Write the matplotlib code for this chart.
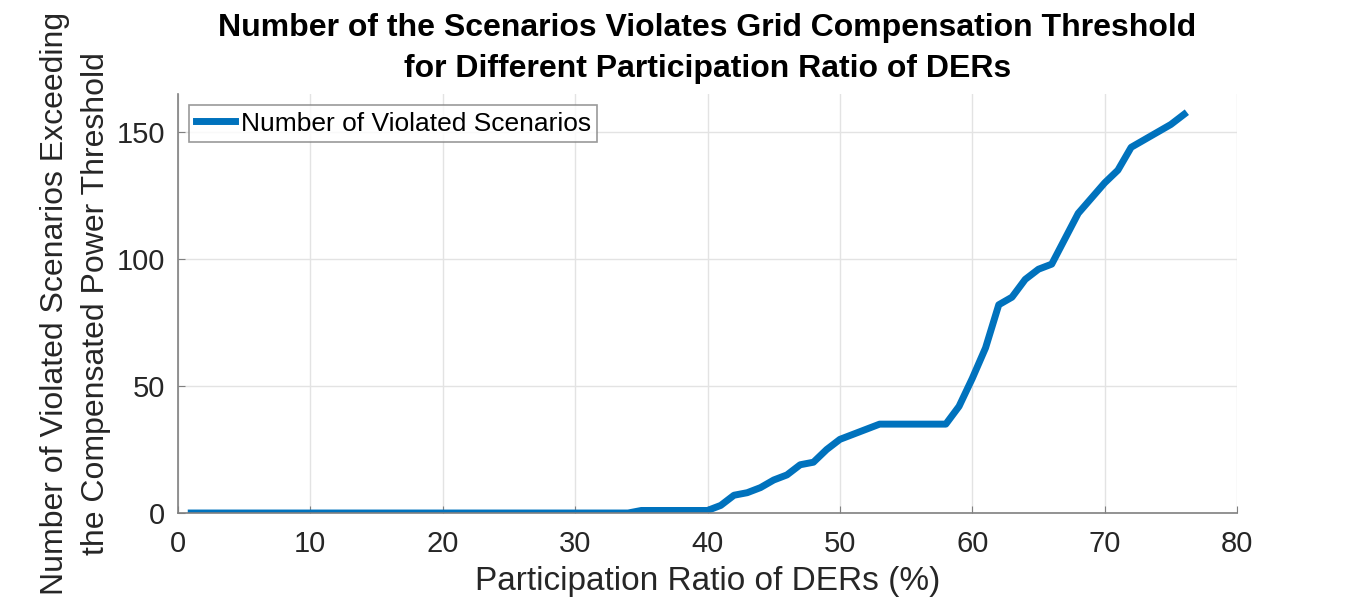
import numpy as np
import matplotlib.pyplot as plt

# participation ratio (%) and number of violated scenarios
ratio = np.arange(1, 77)
violated = [0] * 34 + [1, 1, 1, 1, 1, 1,
                       3, 7, 8, 10, 13, 15, 19, 20, 25, 29, 31, 33,
                       35, 35, 35, 35, 35, 35,
                       42, 53, 65, 82, 85, 92, 96, 98, 108, 118,
                       124, 130, 135, 144, 147, 150, 153, 157]

x_ticks = [0, 10, 20, 30, 40, 50, 60, 70, 80]
y_ticks = [0, 50, 100, 150]

plt.rcParams['font.family'] = ['Liberation Sans', 'DejaVu Sans']

fig = plt.figure(figsize=(13.66, 6.01), dpi=100)
ax = fig.add_axes([0.1303, 0.1464, 0.7753, 0.6972])

ax.plot(ratio, violated, color='#0072BD', lw=5, label='Number of Violated Scenarios')

ax.set_xlim(0, 80)
ax.set_ylim(0, 165)
ax.set_xticks(x_ticks)
ax.set_yticks(y_ticks)
ax.grid(True, color='#e3e3e3', lw=1)
ax.set_axisbelow(True)

for s in ['top', 'right']:
    ax.spines[s].set_visible(False)
for s in ['left', 'bottom']:
    ax.spines[s].set_color('#808080')
    ax.spines[s].set_linewidth(1.2)
ax.tick_params(direction='in', length=5, color='#808080', labelsize=21,
               labelcolor='#262626')
ax.tick_params(axis='x', pad=12)
ax.tick_params(axis='y', pad=9)

ax.set_xlabel('Participation Ratio of DERs (%)', fontsize=24, color='#262626', labelpad=6)
ax.set_ylabel('Number of Violated Scenarios Exceeding\nthe Compensated Power Threshold',
              fontsize=23, color='#262626', labelpad=4, linespacing=1.5)
ax.set_title('Number of the Scenarios Violates Grid Compensation Threshold\n'
             'for Different Participation Ratio of DERs',
             fontsize=23, fontweight='bold', color='black', pad=12, linespacing=1.5)

leg = ax.legend(loc='upper left', fontsize=19, frameon=True, fancybox=False,
                edgecolor='#808080', handlelength=1.5, handletextpad=0.2,
                borderpad=0.25, borderaxespad=0.42)
leg.get_frame().set_linewidth(1.2)
for t in leg.get_texts():
    t.set_color('black')

fig.savefig('out.png', dpi=100)
